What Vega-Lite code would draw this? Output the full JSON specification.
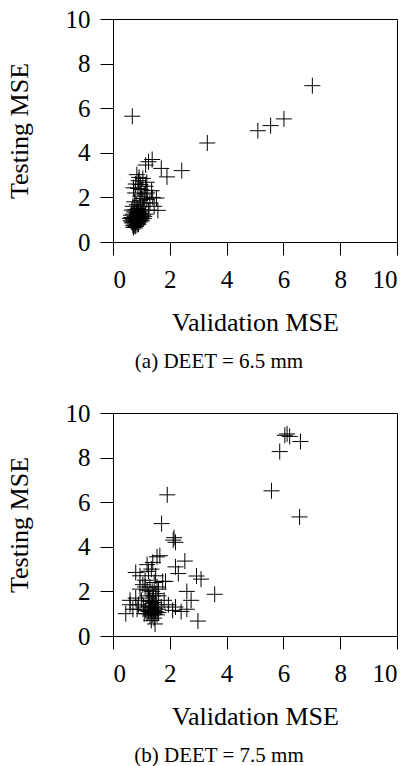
{
  "$schema": "https://vega.github.io/schema/vega-lite/v6.json",
  "padding": {"left": 5, "top": 6, "right": 4, "bottom": 4},
  "background": "white",
  "spacing": 27,
  "config": {
    "font": "Liberation Serif",
    "view": {"stroke": "black", "strokeWidth": 1},
    "style": {
      "guide-label": {"font": "Liberation Serif", "fontSize": 25, "fill": "black"},
      "guide-title": {"font": "Liberation Serif", "fontSize": 26, "fontWeight": "normal", "fill": "black"}
    },
    "axis": {
      "labelFont": "Liberation Serif", "titleFont": "Liberation Serif",
      "labelFontSize": 25, "titleFontSize": 26, "titleFontWeight": "normal",
      "labelColor": "black", "titleColor": "black", "tickColor": "black", "domainColor": "black",
      "grid": false, "tickSize": 13, "labelPadding": 10, "domainWidth": 1, "tickWidth": 1
    },
    "axisY": {"titlePadding": 33},
    "axisX": {"titlePadding": 17, "labelPadding": 12},
    "title": {"font": "Liberation Serif", "fontSize": 21, "fontWeight": "normal", "color": "black"}
  },
  "datasets": {
    "a": [
      {"validation": 0.68, "testing": 5.64}, {"validation": 3.32, "testing": 4.44}, {"validation": 5.10, "testing": 4.99},
      {"validation": 5.55, "testing": 5.22}, {"validation": 6.02, "testing": 5.52}, {"validation": 7.02, "testing": 7.01},
      {"validation": 2.42, "testing": 3.20}, {"validation": 1.90, "testing": 2.92}, {"validation": 1.70, "testing": 3.30},
      {"validation": 1.38, "testing": 3.70}, {"validation": 1.15, "testing": 3.45}, {"validation": 1.25, "testing": 3.60},
      {"validation": 0.84, "testing": 3.02}, {"validation": 0.72, "testing": 2.43}, {"validation": 0.96, "testing": 2.58},
      {"validation": 1.19, "testing": 2.68}, {"validation": 1.05, "testing": 2.85}, {"validation": 0.90, "testing": 2.75},
      {"validation": 1.36, "testing": 2.30}, {"validation": 1.53, "testing": 1.97}, {"validation": 1.58, "testing": 1.42},
      {"validation": 1.19, "testing": 1.90}, {"validation": 0.96, "testing": 2.05}, {"validation": 0.78, "testing": 2.20},
      {"validation": 0.84, "testing": 1.67}, {"validation": 1.07, "testing": 1.60}, {"validation": 0.66, "testing": 1.43},
      {"validation": 1.00, "testing": 1.28}, {"validation": 1.25, "testing": 1.43}, {"validation": 1.40, "testing": 2.00},
      {"validation": 1.30, "testing": 1.75}, {"validation": 1.10, "testing": 2.15}, {"validation": 0.88, "testing": 2.40},
      {"validation": 1.00, "testing": 2.35}, {"validation": 1.15, "testing": 2.50}, {"validation": 0.80, "testing": 2.60},
      {"validation": 0.95, "testing": 1.85}, {"validation": 1.05, "testing": 1.95}, {"validation": 0.75, "testing": 1.80},
      {"validation": 0.70, "testing": 1.60}, {"validation": 0.88, "testing": 1.50}, {"validation": 1.12, "testing": 1.75},
      {"validation": 1.20, "testing": 2.20}, {"validation": 1.45, "testing": 1.60}, {"validation": 0.92, "testing": 2.90},
      {"validation": 0.60, "testing": 1.05}, {"validation": 0.62, "testing": 0.95}, {"validation": 0.65, "testing": 1.10},
      {"validation": 0.68, "testing": 0.85}, {"validation": 0.70, "testing": 0.75}, {"validation": 0.72, "testing": 0.65},
      {"validation": 0.74, "testing": 0.95}, {"validation": 0.76, "testing": 1.15}, {"validation": 0.78, "testing": 0.80},
      {"validation": 0.80, "testing": 0.70}, {"validation": 0.82, "testing": 1.00}, {"validation": 0.84, "testing": 0.90},
      {"validation": 0.86, "testing": 1.20}, {"validation": 0.88, "testing": 0.85}, {"validation": 0.90, "testing": 1.05},
      {"validation": 0.92, "testing": 0.95}, {"validation": 0.94, "testing": 1.15}, {"validation": 0.96, "testing": 1.25},
      {"validation": 0.98, "testing": 1.00}, {"validation": 1.00, "testing": 1.10}, {"validation": 1.02, "testing": 0.95},
      {"validation": 1.05, "testing": 1.20}, {"validation": 1.08, "testing": 1.05}, {"validation": 1.10, "testing": 1.15},
      {"validation": 1.15, "testing": 1.25}, {"validation": 0.70, "testing": 1.25}, {"validation": 0.74, "testing": 1.35},
      {"validation": 0.78, "testing": 1.45}, {"validation": 0.82, "testing": 1.30}, {"validation": 0.86, "testing": 1.40},
      {"validation": 0.66, "testing": 0.90}, {"validation": 0.70, "testing": 1.00}, {"validation": 0.75, "testing": 0.72},
      {"validation": 0.80, "testing": 0.90}, {"validation": 0.85, "testing": 0.78}, {"validation": 0.90, "testing": 0.80},
      {"validation": 0.95, "testing": 0.90}, {"validation": 0.77, "testing": 1.05}, {"validation": 0.83, "testing": 1.12},
      {"validation": 0.87, "testing": 1.00}, {"validation": 0.73, "testing": 0.88}, {"validation": 0.90, "testing": 1.35},
      {"validation": 0.98, "testing": 1.45}, {"validation": 1.02, "testing": 1.35}, {"validation": 0.64, "testing": 1.20}
    ],
    "b": [
      {"validation": 6.13, "testing": 9.06}, {"validation": 6.22, "testing": 8.95}, {"validation": 6.05, "testing": 9.00},
      {"validation": 6.60, "testing": 8.72}, {"validation": 5.87, "testing": 8.27}, {"validation": 5.58, "testing": 6.51},
      {"validation": 6.57, "testing": 5.34}, {"validation": 1.91, "testing": 6.33}, {"validation": 1.71, "testing": 5.04},
      {"validation": 2.15, "testing": 4.41}, {"validation": 2.20, "testing": 4.20}, {"validation": 2.12, "testing": 4.30},
      {"validation": 3.58, "testing": 1.87}, {"validation": 2.99, "testing": 0.67}, {"validation": 2.53, "testing": 3.36},
      {"validation": 2.20, "testing": 3.10}, {"validation": 2.30, "testing": 2.80}, {"validation": 2.94, "testing": 2.69},
      {"validation": 3.10, "testing": 2.55}, {"validation": 2.60, "testing": 2.00}, {"validation": 2.75, "testing": 1.60},
      {"validation": 2.60, "testing": 1.20}, {"validation": 2.20, "testing": 1.30}, {"validation": 1.95, "testing": 1.40},
      {"validation": 1.48, "testing": 0.54}, {"validation": 2.10, "testing": 1.15}, {"validation": 2.40, "testing": 1.10},
      {"validation": 1.85, "testing": 2.45}, {"validation": 1.75, "testing": 2.45}, {"validation": 1.65, "testing": 3.60},
      {"validation": 1.55, "testing": 3.55}, {"validation": 1.40, "testing": 3.30}, {"validation": 1.25, "testing": 2.90},
      {"validation": 1.13, "testing": 2.50}, {"validation": 0.95, "testing": 2.70}, {"validation": 0.80, "testing": 2.85},
      {"validation": 0.45, "testing": 1.00}, {"validation": 0.60, "testing": 1.60}, {"validation": 0.80, "testing": 1.70},
      {"validation": 0.60, "testing": 1.40}, {"validation": 0.70, "testing": 1.20}, {"validation": 0.90, "testing": 1.40},
      {"validation": 1.07, "testing": 1.30}, {"validation": 1.13, "testing": 2.20}, {"validation": 0.95, "testing": 2.10},
      {"validation": 1.30, "testing": 2.20}, {"validation": 1.45, "testing": 2.40}, {"validation": 1.25, "testing": 1.80},
      {"validation": 1.60, "testing": 1.80}, {"validation": 1.60, "testing": 2.10}, {"validation": 1.50, "testing": 2.70},
      {"validation": 1.35, "testing": 3.00}, {"validation": 1.20, "testing": 3.20}, {"validation": 1.00, "testing": 1.60},
      {"validation": 0.85, "testing": 1.20}, {"validation": 1.80, "testing": 1.60}, {"validation": 1.70, "testing": 1.30},
      {"validation": 1.20, "testing": 1.00}, {"validation": 1.25, "testing": 1.10}, {"validation": 1.30, "testing": 0.90},
      {"validation": 1.32, "testing": 1.20}, {"validation": 1.35, "testing": 1.05}, {"validation": 1.38, "testing": 1.30},
      {"validation": 1.40, "testing": 0.95}, {"validation": 1.42, "testing": 1.15}, {"validation": 1.45, "testing": 1.00},
      {"validation": 1.48, "testing": 1.25}, {"validation": 1.50, "testing": 1.10}, {"validation": 1.52, "testing": 1.40},
      {"validation": 1.55, "testing": 0.95}, {"validation": 1.58, "testing": 1.20}, {"validation": 1.35, "testing": 1.45},
      {"validation": 1.40, "testing": 1.60}, {"validation": 1.45, "testing": 1.50}, {"validation": 1.30, "testing": 1.55},
      {"validation": 1.25, "testing": 1.35}, {"validation": 1.60, "testing": 1.05}, {"validation": 1.15, "testing": 1.15},
      {"validation": 1.10, "testing": 1.00}, {"validation": 1.28, "testing": 1.70}, {"validation": 1.42, "testing": 1.80},
      {"validation": 1.50, "testing": 1.90}, {"validation": 1.38, "testing": 2.00}, {"validation": 1.20, "testing": 2.05},
      {"validation": 1.05, "testing": 2.30}, {"validation": 1.55, "testing": 2.20}, {"validation": 1.45, "testing": 0.80},
      {"validation": 1.35, "testing": 0.70}
    ]
  },
  "vconcat": [
    {
      "width": 284, "height": 223,
      "title": {"text": "(a)  DEET = 6.5 mm", "orient": "bottom", "anchor": "middle", "frame": "group", "dx": -36, "offset": 16},
      "data": {"name": "a"},
      "mark": {"type": "point", "shape": "M-1,0H1M0,-1V1", "size": 256, "filled": false, "stroke": "black", "strokeWidth": 1, "opacity": 1},
      "encoding": {
        "x": {"field": "validation", "type": "quantitative", "scale": {"domain": [0, 10], "nice": false}, "axis": {"values": [0, 2, 4, 6, 8, 10], "title": "Validation MSE", "labelFont": "Liberation Serif", "titleFont": "Liberation Serif", "labelFontSize": 25, "titleFontSize": 26}},
        "y": {"field": "testing", "type": "quantitative", "scale": {"domain": [0, 10], "nice": false}, "axis": {"values": [0, 2, 4, 6, 8, 10], "title": "Testing MSE", "labelFont": "Liberation Serif", "titleFont": "Liberation Serif", "labelFontSize": 25, "titleFontSize": 26}}
      }
    },
    {
      "width": 284, "height": 223,
      "title": {"text": "(b)  DEET = 7.5 mm", "orient": "bottom", "anchor": "middle", "frame": "group", "dx": -36, "offset": 16},
      "data": {"name": "b"},
      "mark": {"type": "point", "shape": "M-1,0H1M0,-1V1", "size": 256, "filled": false, "stroke": "black", "strokeWidth": 1, "opacity": 1},
      "encoding": {
        "x": {"field": "validation", "type": "quantitative", "scale": {"domain": [0, 10], "nice": false}, "axis": {"values": [0, 2, 4, 6, 8, 10], "title": "Validation MSE", "labelFont": "Liberation Serif", "titleFont": "Liberation Serif", "labelFontSize": 25, "titleFontSize": 26}},
        "y": {"field": "testing", "type": "quantitative", "scale": {"domain": [0, 10], "nice": false}, "axis": {"values": [0, 2, 4, 6, 8, 10], "title": "Testing MSE", "labelFont": "Liberation Serif", "titleFont": "Liberation Serif", "labelFontSize": 25, "titleFontSize": 26}}
      }
    }
  ]
}
